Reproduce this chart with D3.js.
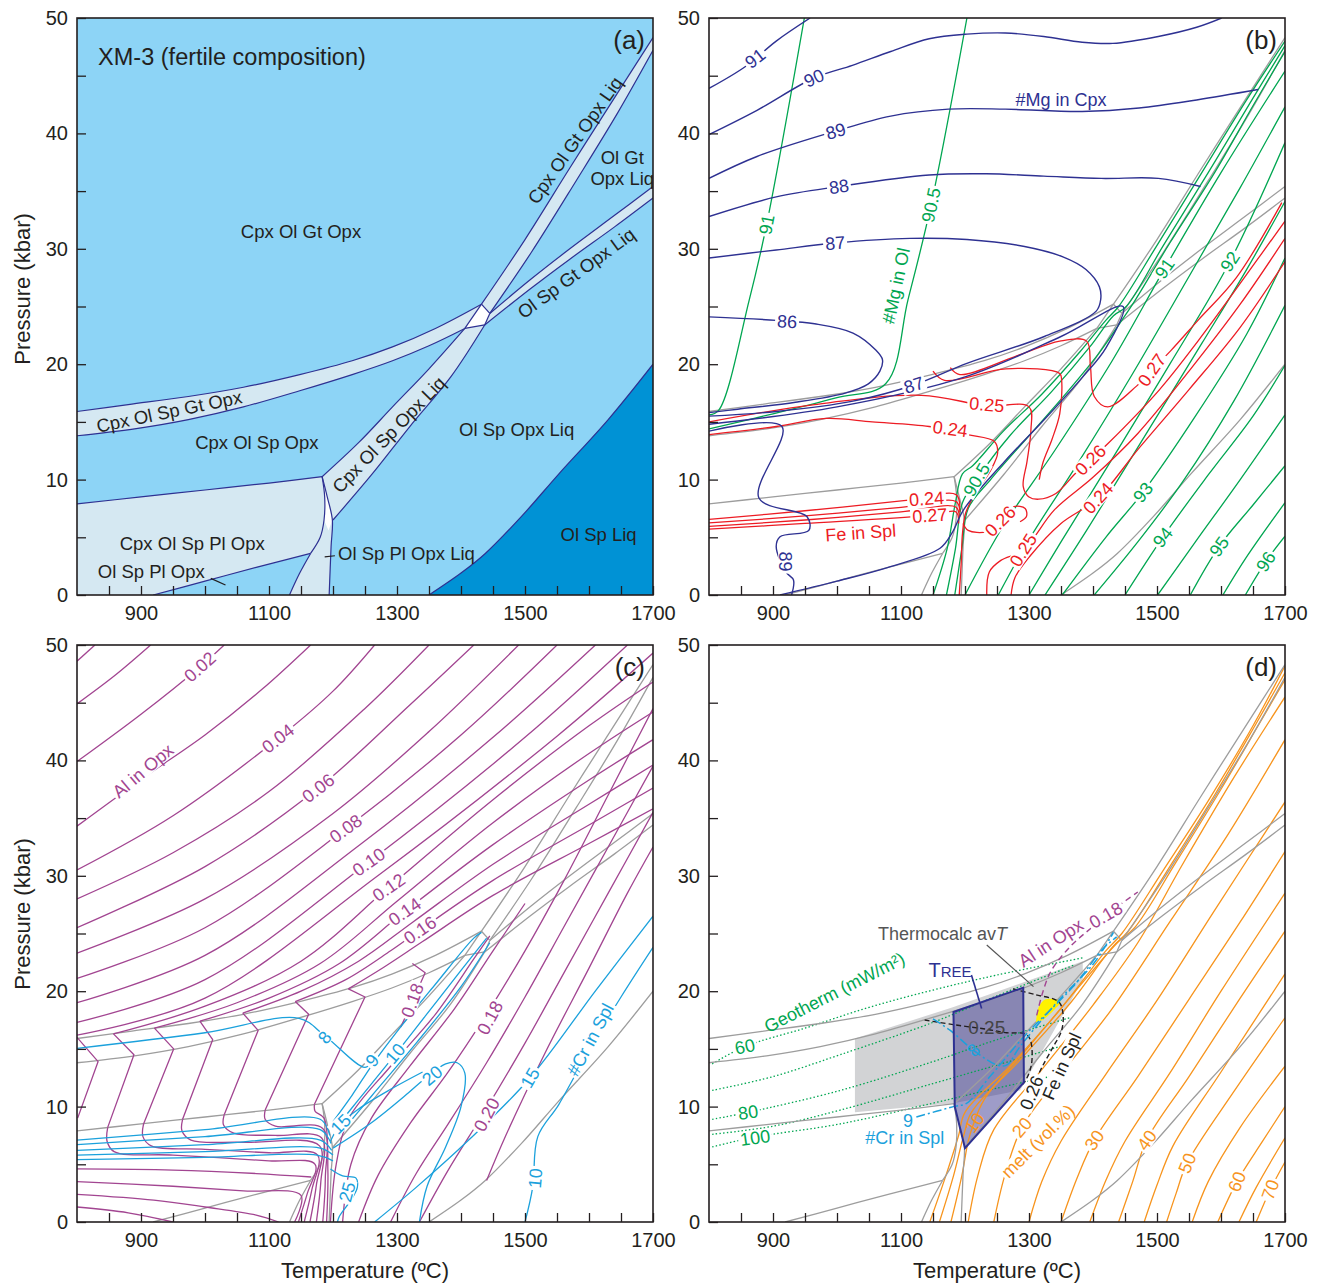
<!DOCTYPE html>
<html>
<head>
<meta charset="utf-8">
<script src="https://cdn.jsdelivr.net/npm/d3@7"></script>
<style>
  body { margin: 0; background: #fff; }
  text { font-family: "Liberation Sans", Arial, Helvetica, sans-serif; }
</style>
</head>
<body>
<div id="chart"></div>
<script>
// ---------- axis values ----------
const xTickLabels = [900, 1100, 1300, 1500, 1700];
const yTickLabels = [0, 10, 20, 30, 40, 50];

// ---------- phase boundaries (T degC, P kbar) ----------
const gtUpper = [[800,15.9],[880,16.5],[974,17.2],[1060,18.0],[1148,19.1],[1230,20.3],[1293,21.5],[1360,23.1],[1432,25.2]];
const gtLower = [[800,13.8],[890,14.4],[974,15.2],[1060,16.3],[1148,17.7],[1230,19.1],[1293,20.3],[1350,21.6],[1406,23.1]];
const solLeft = [[1183,10.25],[1240,13.2],[1293,16.3],[1350,19.6],[1406,23.1]];
const cpxOut = [[1200,6.5],[1260,10.4],[1320,14.6],[1384,18.9],[1437,23.4]];
const triEdges = [
  [[1406,23.1],[1432,25.2]],
  [[1406,23.1],[1437,23.4]],
  [[1432,25.2],[1445,24.4]],
  [[1437,23.4],[1445,24.4]]
];
const gtLiqLeft = [[1432,25.2],[1500,30.8],[1570,37.0],[1640,43.1],[1700,48.3]];
const gtLiqRight = [[1445,24.4],[1510,29.7],[1580,35.9],[1645,41.8],[1700,47.2]];
const spgtUpper = [[1445,24.4],[1510,27.4],[1570,30.0],[1640,32.9],[1700,35.4]];
const spgtLower = [[1437,23.4],[1510,26.6],[1570,29.1],[1640,31.9],[1700,34.4]];
const plagIn = [[800,7.9],[900,8.5],[1000,9.1],[1100,9.7],[1183,10.25]];
const curveA = [[1183,10.25],[1191,8.5],[1199,6.5],[1197,4.2],[1194,0]];
const curveB = [[1183,10.25],[1187,8.5],[1186,6.5],[1180,5.0],[1165,3.6]];
const plSol = [[1165,3.6],[1148,1.9],[1132,0]];
const cpxOutPl = [[919,0],[1000,1.2],[1080,2.4],[1165,3.6]];
const opxOut = [[1350,0],[1400,1.9],[1438,3.6],[1496,6.9],[1553,10.5],[1630,15.2],[1700,20.0]];
const triangle = [[1432,25.2],[1406,23.1],[1437,23.4],[1445,24.4]];
const sliver = [[1183,10.25],[1191,8.5],[1199,6.5],[1193,5.6],[1186,6.5],[1187,8.5]];
const boundaries = [gtUpper, gtLower, solLeft, cpxOut, gtLiqLeft, gtLiqRight, spgtUpper, spgtLower,
  plagIn, curveA, curveB, plSol, cpxOutPl, opxOut, ...triEdges];

// ---------- (b) #Mg in Cpx ----------
const mgCpx = [
  [[800,43.9],[857,45.8],[905,48.0],[958,50]],
  [[800,39.9],[875,42.0],[964,44.8],[1024,45.9],[1084,47.1],[1144,48.2],[1203,48.6],[1263,48.7],[1323,48.4],[1383,47.9],[1431,47.8],[1502,48.4],[1562,49.2],[1601,50]],
  [[800,36.1],[875,38.0],[998,40.2],[1084,41.5],[1174,42.1],[1263,42.1],[1383,41.9],[1472,42.2],[1562,42.9],[1658,43.8]],
  [[800,32.8],[905,34.5],[1003,35.4],[1144,36.4],[1233,36.5],[1323,36.3],[1413,36.1],[1502,36.1],[1568,35.4]],
  [[800,29.2],[905,29.9],[997,30.5],[1114,30.9],[1203,30.8],[1293,30.2],[1353,29.3],[1389,28.2],[1410,26.7],[1412,25.6],[1405,24.6],[1324,22.4],[1204,20.1],[1120,18.2],[1025,16.8],[905,15.9],[800,15.5]],
  [[800,24.1],[905,23.8],[965,23.5],[1025,22.7],[1061,21.2],[1071,20.4],[1067,19.4],[1049,18.3],[1013,17.5],[935,16.7],[845,16.1],[800,15.8]],
  [[800,14.8],[1000,16.3],[1200,18.9],[1350,22.4],[1447,25.0],[1420,21.4],[1384,18.9],[1324,15.2],[1264,11.7],[1198,7.4],[1180,5.4],[1161,4.05],[1080,2.4],[1000,1.2],[911,0]],
  [[800,14.2],[914,14.6],[878,8.4],[953,6.8],[956,5.6],[911,5.05],[905,4.2],[920,2.0],[932,1.3],[929,0]]
];
// ---------- (b) #Mg in Ol ----------
const mgOl = [
  [[949,50],[890,32.1],[863,25.6],[815,16.0],[800,15.6]],
  [[1203,50],[1147,33.8],[1111,25.6],[1076,18.3],[1000,17.1],[900,15.7],[800,14.4]],
  [[1150,0],[1172,4],[1185,8],[1196,10.5],[1212,11.2],[1260,14.2],[1320,17.4],[1380,21.1],[1420,23.8],[1440,25.0],[1500,30.3],[1570,36.6],[1640,42.9],[1700,48.0]],
  [[1171,0],[1185,4],[1196,8],[1218,10.0],[1270,13.8],[1335,17.6],[1395,21.5],[1432,24.2],[1452,25.0],[1510,30.3],[1580,36.6],[1645,42.6],[1700,47.6]],
  [[1184,0],[1195,4],[1205,7.5],[1240,10.0],[1300,13.8],[1360,17.6],[1410,21.0],[1445,23.8],[1462,25.2],[1520,30.5],[1590,36.6],[1650,42.4],[1700,47.1]],
  [[1200,0],[1260,6],[1340,12.5],[1430,20.3],[1512,28.3],[1600,36.6],[1700,45.4]],
  [[1252,0],[1300,4.8],[1375,11.3],[1460,19.0],[1550,27.6],[1630,35.3],[1700,42.3]],
  [[1300,0],[1350,4.6],[1430,11.8],[1520,20.0],[1614,28.9],[1700,39.2]],
  [[1325,0],[1390,5.6],[1470,12.8],[1570,21.8],[1640,28.2],[1700,34.1]],
  [[1352,0],[1420,5.0],[1478,8.9],[1560,15.5],[1640,22.6],[1700,29.2]],
  [[1402,0],[1470,4.6],[1540,9.8],[1620,16.8],[1700,25.1]],
  [[1450,0],[1509,5.0],[1580,10.4],[1650,15.5],[1700,19.9]],
  [[1501,0],[1560,4.6],[1630,10.0],[1700,15.6]],
  [[1552,0],[1597,4.2],[1650,7.8],[1700,11.2]],
  [[1603,0],[1640,3.3],[1700,8.0]],
  [[1638,0],[1670,2.9],[1700,5.1]]
];
// ---------- (b) Fe in Spl ----------
const feSpl = [
  [[800,6.55],[950,7.3],[1108,8.2],[1186,8.7],[1192,7.6]],
  [[800,6.25],[950,6.85],[1100,7.6],[1186,8.1],[1192,7.2]],
  [[800,5.95],[950,6.5],[1100,7.2],[1186,7.6],[1191,6.7]],
  [[800,5.7],[950,6.2],[1144,6.9],[1186,7.2],[1190,6.2]],
  [[800,13.9],[905,14.6],[983,15.3],[1055,15.0],[1144,14.6],[1204,13.9],[1246,13.3],[1251,12.3],[1240,10.8],[1216,8.8],[1201,7.1],[1196,5.3],[1194,2.7],[1191,0]],
  [[800,15.0],[965,16.5],[1132,17.3],[1234,16.4],[1300,16.3],[1303,14.3],[1297,11.6],[1291,9.4],[1300,8.5],[1315,8.3],[1342,8.8],[1372,10.5],[1396,11.7],[1423,13.1],[1504,17.8],[1564,22.0],[1630,27.0],[1700,32.4]],
  [[1150,19.4],[1168,18.6],[1264,19.6],[1348,19.2],[1351,18.6],[1348,15.7],[1336,13.5],[1322,11.5],[1316,10.0]],
  [[1177,19.7],[1192,19.1],[1280,20.7],[1348,22.0],[1390,22.0],[1396,19.8],[1402,17.2],[1423,16.3],[1468,18.1],[1492,19.5],[1522,21.2],[1564,23.8],[1624,27.5],[1695,34.0]],
  [[1234,0],[1238,2.0],[1256,3.0],[1291,3.9],[1340,7.4],[1400,10.2],[1470,14.0],[1550,19.4],[1630,25.2],[1700,30.9]],
  [[1272,0],[1278,1.5],[1302,3.4],[1350,6.2],[1408,8.4],[1470,12.6],[1550,17.8],[1630,23.2],[1700,28.9]],
  [[1197,6.2],[1205,5.6],[1234,5.5],[1258,6.6],[1276,7.65],[1294,7.5],[1296,6.8],[1286,6.35]]
];

// ---------- (c) Al in Opx ----------
const alGt = [
  [[800,48.6],[828,50]],
  [[800,44.9],[860,47.4],[915,50]],
  [[800,39.9],[900,44.0],[992,48.1],[1030,50]],
  [[800,34.3],[904,38.5],[1000,42.2],[1090,46.2],[1165,50]],
  [[800,30.5],[950,35.2],[1114,41.9],[1200,46.0],[1265,50]],
  [[800,28.0],[950,32.0],[1100,37.3],[1250,44.5],[1350,50]],
  [[800,25.5],[1000,30.8],[1177,37.6],[1320,44.8],[1420,50]],
  [[800,23.3],[1000,28.0],[1200,35.4],[1350,42.5],[1490,50]],
  [[800,21.1],[1000,25.5],[1220,34.1],[1400,42.2],[1550,50]],
  [[800,19.0],[1000,23.1],[1240,32.6],[1450,42.0],[1610,50]],
  [[800,17.3],[1000,21.0],[1256,31.2],[1500,42.0],[1660,50]],
  [[800,16.2],[1000,19.4],[1270,30.0],[1550,42.1],[1700,49.3]],
  [[857,16.3],[1000,18.7],[1150,22.6],[1287,29.0],[1450,36.6],[1600,43.0],[1700,46.8]],
  [[921,16.8],[1050,19.0],[1180,22.4],[1300,27.8],[1450,34.6],[1600,40.6],[1700,44.2]],
  [[992,17.4],[1100,19.4],[1210,22.4],[1312,26.9],[1450,32.7],[1600,38.3],[1700,41.8]],
  [[1059,18.1],[1150,20.0],[1240,22.6],[1325,26.0],[1450,31.0],[1600,36.2],[1700,39.6]],
  [[1141,19.1],[1220,21.0],[1290,23.5],[1336,25.3],[1450,29.6],[1600,34.4],[1700,37.6]],
  [[1224,20.2],[1280,22.1],[1340,24.3],[1450,28.3],[1600,32.8],[1700,35.8]]
];
const alSp = [
  [[800,16.0],[833,13.9],[801,9.0]],
  [[857,16.3],[889,14.5],[848,8.2]],
  [[921,16.8],[951,15.0],[904,8.5]],
  [[992,17.4],[1012,15.8],[965,8.9]],
  [[1059,18.1],[1083,16.6],[1030,9.3]],
  [[1141,19.1],[1162,18.0],[1094,9.7]],
  [[1224,20.2],[1250,19.5],[1171,10.2]],
  [[1324,22.4],[1344,21.6],[1306,16.9]]
];
const alPl = [
  [[848,8.2],[847,7.0],[858,6.1],[950,5.8],[1100,5.3],[1172,5.0],[1160,2.5],[1146,0]],
  [[904,8.5],[903,7.4],[916,6.6],[1000,6.3],[1100,6.0],[1176,5.8],[1167,2.8],[1155,0]],
  [[965,8.9],[964,7.9],[978,7.1],[1060,6.9],[1179,6.6],[1174,3.2],[1164,0]],
  [[1030,9.3],[1029,8.4],[1045,7.7],[1110,7.5],[1182,7.3],[1181,3.5],[1174,0]],
  [[1094,9.7],[1094,8.9],[1110,8.3],[1184,8.1],[1188,3.8],[1184,0]],
  [[1171,10.2],[1172,9.6],[1186,9.0],[1192,4.5],[1190,0]],
  [[800,4.6],[950,4.5],[1080,4.2],[1166,3.9]],
  [[800,3.5],[950,3.1],[1060,2.7],[1150,2.3],[1140,0]],
  [[800,2.4],[920,1.9],[1000,1.3],[1080,0.6],[1115,0]],
  [[800,1.3],[880,0.8],[950,0]]
];
const alLiq = [
  [[1196,0],[1205,5],[1225,9],[1290,13.5],[1360,18.0],[1420,22.8],[1445,24.8]],
  [[1215,0],[1228,5],[1260,9],[1320,13.5],[1390,18.5],[1450,23.5],[1500,27.6]],
  [[1240,0],[1270,4],[1320,8.5],[1380,13],[1441,18.1],[1500,23.5],[1560,29.5],[1630,37],[1700,44.5]],
  [[1290,0],[1330,4.2],[1380,8.5],[1440,13.8],[1500,19.5],[1560,25.5],[1630,32.5],[1700,39.5]],
  [[1335,0],[1380,4.5],[1435,9.4],[1500,15.5],[1560,21.5],[1630,28.5],[1700,35.5]],
  [[1440,3.6],[1470,7.5],[1530,14.5],[1600,22],[1660,28.5],[1700,32.5]]
];
// ---------- (c) #Cr in Spl ----------
const crSpl = [
  [[800,15.05],[1000,16.4],[1147,17.65],[1188,16.1],[1250,13.4],[1262,14.0]],
  [[1200,8.7],[1230,11.0],[1261,13.6],[1300,16.5],[1360,20.6],[1420,24.6],[1432,25.1]],
  [[1205,8.2],[1240,10.6],[1297,14.5],[1345,17.9],[1400,21.8],[1440,24.6]],
  [[1210,7.6],[1260,10.9],[1330,15.5],[1400,20.4],[1445,24.2]],
  [[1196,7.0],[1212,8.5],[1240,9.8],[1290,11.5],[1340,13.0]],
  [[1200,6.4],[1260,8.6],[1318,11.2],[1341,12.3],[1376,13.7],[1394,13.8],[1406,12.9],[1400,10.0],[1376,6.5],[1347,3.1],[1335,0]],
  [[1196,4.6],[1215,4.0],[1236,3.8],[1238,3.0],[1228,1.9],[1210,0.5],[1207,0]],
  [[1265,0],[1330,3.0],[1412,7.1],[1508,12.5],[1611,20.1],[1700,26.5]],
  [[1500,0],[1512,3.0],[1520,7.4],[1553,10.2],[1603,15.2],[1650,19.5],[1700,23.8]],
  [[800,7.1],[1000,8.0],[1180,8.9],[1195,7.5]],
  [[800,6.7],[1000,7.4],[1180,8.0],[1197,6.8]],
  [[800,6.2],[1000,6.7],[1180,7.1],[1198,6.2]],
  [[800,5.8],[1000,6.1],[1180,6.4],[1200,5.8]],
  [[800,5.4],[1000,5.6],[1175,5.8],[1200,5.3]]
];

// ---------- (d) melt (vol.%) ----------
const melt = [
  [[1145,0],[1170,4],[1190,7.5],[1200,9.5],[1270,13.5],[1350,18.5],[1420,23.5],[1445,25],[1510,30.5],[1580,36.5],[1650,43],[1700,48.2]],
  [[1160,0],[1182,4],[1198,7.5],[1210,9.5],[1285,14],[1365,19],[1430,23.8],[1455,25.2],[1520,30.8],[1590,37],[1655,43.2],[1700,47.6]],
  [[1178,0],[1195,4],[1205,7],[1212,8.3],[1230,10.6],[1300,15.2],[1380,20.5],[1440,24.3],[1465,25.5],[1530,31.2],[1600,37.5],[1660,43.2],[1700,47.0]],
  [[1205,0],[1220,4],[1245,8],[1320,13.2],[1400,18.8],[1470,24.2],[1540,31],[1620,38.5],[1700,45.5]],
  [[1245,0],[1262,4],[1289,8.2],[1350,12.8],[1430,18.5],[1520,26],[1610,33.5],[1700,41.8]],
  [[1300,0],[1320,3.5],[1350,7.0],[1420,12.8],[1500,19.2],[1590,27],[1700,36.4]],
  [[1350,0],[1375,3.8],[1402,7.1],[1470,12.6],[1550,19.3],[1630,26],[1700,32.1]],
  [[1395,0],[1420,3.6],[1450,7.0],[1520,12.9],[1600,20],[1700,28.5]],
  [[1440,0],[1462,3.5],[1484,7.1],[1550,12.6],[1630,19.4],[1700,25.2]],
  [[1480,0],[1500,3.2],[1525,6.6],[1600,13.0],[1700,21.5]],
  [[1515,0],[1530,2.5],[1547,5.1],[1620,11.3],[1700,17.7]],
  [[1555,0],[1580,3.5],[1630,8.2],[1700,13.5]],
  [[1595,0],[1625,3.5],[1665,7.0],[1700,10.0]],
  [[1628,0],[1655,3.0],[1700,7.3]],
  [[1655,0],[1677,2.8],[1700,5.2]]
];
const geotherms = [
  [[805,13.7],[856,15.2],[950,16.8],[1050,18.6],[1150,20.1],[1250,21.4],[1385,22.9]],
  [[805,11.4],[900,12.6],[1005,14.5],[1150,17.3],[1250,19.6],[1372,22.3]],
  [[805,8.9],[861,9.5],[1005,11.4],[1150,13.9],[1250,15.8],[1364,17.7]],
  [[805,7.6],[900,8.3],[1005,9.7],[1150,12.0],[1250,13.6],[1354,15.3]],
  [[805,6.5],[866,7.3],[1005,8.5],[1150,10.3],[1250,11.6],[1333,12.6]]
];
const avTRegion = [[1028,15.9],[1181,18.6],[1384,22.6],[1384,21.0],[1286,11.4],[1182,10.3],[1028,9.5]];
const treeRegion = [[1182,18.2],[1291,20.3],[1292,12.1],[1200,6.4],[1184,10.0]];
const yellowRegion = [[1311,17.3],[1315,18.6],[1326,19.3],[1349,19.1],[1338,18.3],[1322,17.5]];
const feDash = [
  [[1137,17.5],[1182,17.1],[1234,16.7],[1265,16.4],[1294,16.3],[1302,15.8],[1304,13.7],[1294,12.2],[1286,11.7]],
  [[1275,20.2],[1310,19.7],[1346,19.1],[1353,18.1],[1351,16.6],[1338,15.2],[1322,13.6],[1313,12.6]]
];
const crDash = [
  [[1150,17.6],[1177,16.6],[1213,14.9],[1250,13.6],[1265,13.6],[1286,15.2],[1343,19.0],[1401,22.4],[1432,25.1]],
  [[1124,9.1],[1182,10.0],[1203,10.3],[1239,12.6],[1296,16.3],[1369,20.4],[1416,23.7],[1437,24.7]]
];
const alDash = [[1312,17.9],[1322,20.0],[1335,21.8],[1365,23.9],[1400,25.6],[1440,27.4],[1470,28.6]];

// ---------- colours ----------
const navy = "#2e3192", green = "#00a651", red = "#ed1c24", purple = "#a24591",
      blue = "#1ba1dc", orange = "#f7941d", gray = "#9d9d9d", ink = "#231f20";

// ---------- layout ----------
const W = 576, H = 577;
const origins = { a: [77, 18], b: [709, 18], c: [77, 645], d: [709, 645] };

const svg = d3.select("#chart").append("svg")
  .attr("width", 1325).attr("height", 1284)
  .style("background", "#fff");

function setup(key) {
  const [x0, y0] = origins[key];
  const x = d3.scaleLinear().domain([800, 1700]).range([x0, x0 + W]);
  const y = d3.scaleLinear().domain([0, 50]).range([y0 + H, y0]);
  svg.append("clipPath").attr("id", "clip-" + key)
    .append("rect").attr("x", x0).attr("y", y0).attr("width", W).attr("height", H);
  const g = svg.append("g");
  const plot = g.append("g").attr("clip-path", `url(#clip-${key})`);
  return { key, x, y, g, plot, x0, y0 };
}

const smooth = d3.curveCatmullRom.alpha(0.5);
function gen(p, curve) {
  return d3.line().x(d => p.x(d[0])).y(d => p.y(d[1])).curve(curve || smooth);
}
function draw(p, layer, pts, color, width, dash, curve) {
  return layer.append("path").attr("d", gen(p, curve)(pts))
    .attr("fill", "none").attr("stroke", color).attr("stroke-width", width || 1.3)
    .attr("stroke-dasharray", dash || null).attr("stroke-linejoin", "round");
}
function polyPath(p, parts, curve) {
  return parts.map((pts, i) => {
    if (pts.length === 1) return (i === 0 ? "M" : "L") + p.x(pts[0][0]) + "," + p.y(pts[0][1]);
    const s = gen(p, curve)(pts);
    return i === 0 ? s : "L" + s.slice(1);
  }).join("") + "Z";
}
const rev = a => a.slice().reverse();

function addLabel(p, layer, T, P, text, angle, color, o = {}) {
  const fs = o.size || 18;
  const g = layer.append("g").attr("transform", `translate(${p.x(T)},${p.y(P)}) rotate(${angle || 0})`);
  const bg = o.bg ? g.append("rect").attr("fill", "#fff") : null;
  const t = g.append("text").attr("text-anchor", o.anchor || "middle").attr("dy", "0.35em")
    .attr("font-size", fs).attr("fill", color).text(text);
  if (bg) {
    const b = t.node().getBBox();
    bg.attr("x", b.x - 2).attr("y", -0.42 * fs).attr("width", b.width + 4).attr("height", 0.84 * fs);
  }
  return t;
}

function axes(p, letter) {
  const xa = d3.axisBottom(p.x).tickValues(d3.range(850, 1701, 50)).tickSize(-9).tickPadding(11)
    .tickFormat(d => xTickLabels.includes(d) ? d : "");
  const ya = d3.axisLeft(p.y).tickValues(d3.range(0, 51, 5)).tickSize(-9).tickPadding(9)
    .tickFormat(d => yTickLabels.includes(d) ? d : "");
  const gx = p.g.append("g").attr("transform", `translate(0,${p.y0 + H})`).call(xa);
  const gy = p.g.append("g").attr("transform", `translate(${p.x0},0)`).call(ya);
  [gx, gy].forEach(a => {
    a.select(".domain").remove();
    a.selectAll("line").attr("stroke", ink).attr("stroke-width", 1.3);
    a.selectAll("text").attr("font-size", 20).attr("fill", ink)
      .attr("font-family", '"Liberation Sans", Arial, sans-serif');
  });
  p.g.append("rect").attr("x", p.x0).attr("y", p.y0).attr("width", W).attr("height", H)
    .attr("fill", "none").attr("stroke", ink).attr("stroke-width", 1.6);
  p.g.append("text").attr("x", p.x0 + W - 8).attr("y", p.y0 + 31).attr("text-anchor", "end")
    .attr("font-size", 26).attr("fill", ink).text(letter);
}

function grayBoundaries(p) {
  boundaries.forEach(b => draw(p, p.plot, b, gray, 1.3));
}

// ================= (a) =================
const pa = setup("a");
{
  const mid = "#8dd4f6", pale = "#d5e8f2", dark = "#0092d5";
  const L = pa.plot;
  L.append("rect").attr("x", pa.x0).attr("y", pa.y0).attr("width", W).attr("height", H).attr("fill", mid);
  const fill = (parts, c, curve) => L.append("path").attr("d", polyPath(pa, parts, curve)).attr("fill", c).attr("stroke", "none");
  fill([[[800,0]], plagIn, curveB, rev(cpxOutPl)], pale);
  fill([curveB, plSol, [[1194,0]], rev(curveA)], pale);
  fill([sliver], "#fff", d3.curveLinear);
  fill([solLeft, [[1437,23.4]], rev(cpxOut), rev(curveA.slice(0, 3))], pale);
  fill([gtUpper, rev(gtLower)], pale);
  fill([gtLiqLeft, rev(gtLiqRight)], pale);
  fill([spgtUpper, rev(spgtLower)], pale);
  fill([triangle], "#fff", d3.curveLinear);
  fill([opxOut, [[1700,0]]], dark);
  boundaries.forEach(b => draw(pa, L, b, navy, 1.2));

  const lab = (T, P, t, a, o) => addLabel(pa, L, T, P, t, a, ink, Object.assign({ size: 18.5 }, o || {}));
  lab(833, 46.6, "XM-3 (fertile composition)", 0, { anchor: "start", size: 23.5 });
  lab(1150, 31.5, "Cpx Ol Gt Opx", 0);
  lab(944, 15.9, "Cpx Ol Sp Gt Opx", -11.6);
  lab(1081, 13.2, "Cpx Ol Sp Opx", 0);
  lab(1287, 13.9, "Cpx Ol Sp Opx Liq", -46);
  lab(1487, 14.3, "Ol Sp Opx Liq", 0);
  lab(980, 4.5, "Cpx Ol Sp Pl Opx", 0);
  lab(916, 2.0, "Ol Sp Pl Opx", 0);
  lab(1208, 3.6, "Ol Sp Pl Opx Liq", 0, { anchor: "start" });
  lab(1615, 5.2, "Ol Sp Liq", 0);
  lab(1578, 39.4, "Cpx Ol Gt Opx Liq", -55);
  lab(1652, 37.9, "Ol Gt", 0);
  lab(1652, 36.1, "Opx Liq", 0);
  lab(1580, 27.9, "Ol Sp Gt Opx Liq", -36);
  draw(pa, L, [[1009,1.44],[1032,0.86]], ink, 1.2, null, d3.curveLinear);
  draw(pa, L, [[1187,3.3],[1203,3.4]], ink, 1.2, null, d3.curveLinear);
}
axes(pa, "(a)");

// ================= (b) =================
const pb = setup("b");
{
  const L = pb.plot;
  grayBoundaries(pb);
  mgOl.forEach(l => draw(pb, L, l, green, 1.3));
  feSpl.forEach(l => draw(pb, L, l, red, 1.3));
  mgCpx.forEach(l => draw(pb, L, l, navy, 1.4));
  const lab = (T, P, t, a, c, o) => addLabel(pb, L, T, P, t, a, c, Object.assign({ bg: true }, o || {}));
  lab(872, 46.5, "91", -38, navy); lab(964, 44.8, "90", -25, navy); lab(998, 40.2, "89", -17, navy);
  lab(1003, 35.4, "88", -8, navy); lab(997, 30.5, "87", -5, navy); lab(922, 23.7, "86", 3, navy);
  lab(1120, 18.2, "87", -18, navy); lab(920, 2.9, "89", 90, navy);
  lab(1350, 42.9, "#Mg in Cpx", 0, navy, { bg: false });
  lab(890, 32.1, "91", -79, green); lab(1147, 33.8, "90.5", -78, green);
  lab(1092, 26.8, "#Mg in Ol", -78, green, { bg: false });
  lab(1512, 28.3, "91", -55, green); lab(1614, 28.9, "92", -57, green); lab(1218, 10.0, "90.5", -60, green);
  lab(1478, 8.9, "93", -52, green); lab(1509, 5.0, "94", -52, green); lab(1597, 4.2, "95", -55, green);
  lab(1670, 2.9, "96", -58, green);
  lab(1234, 16.5, "0.25", 5, red); lab(1177, 14.4, "0.24", 8, red);
  lab(1140, 8.35, "0.24", -4, red); lab(1145, 6.9, "0.27", -4, red);
  lab(1037, 5.4, "Fe in Spl", -4, red, { bg: false });
  lab(1492, 19.5, "0.27", -55, red); lab(1396, 11.7, "0.26", -45, red); lab(1408, 8.4, "0.24", -48, red);
  lab(1291, 3.9, "0.25", -58, red); lab(1255, 6.4, "0.26", -45, red);
}
axes(pb, "(b)");

// ================= (c) =================
const pc = setup("c");
{
  const L = pc.plot;
  grayBoundaries(pc);
  alGt.forEach(l => draw(pc, L, l, purple, 1.3));
  alSp.forEach(l => draw(pc, L, l, purple, 1.3, null, d3.curveLinear));
  alPl.forEach(l => draw(pc, L, l, purple, 1.3));
  alLiq.forEach(l => draw(pc, L, l, purple, 1.3));
  crSpl.forEach(l => draw(pc, L, l, blue, 1.3));
  const lab = (T, P, t, a, c, o) => addLabel(pc, L, T, P, t, a, c, Object.assign({ bg: true }, o || {}));
  lab(992, 48.1, "0.02", -42, purple); lab(1114, 41.9, "0.04", -38, purple); lab(1177, 37.6, "0.06", -37, purple);
  lab(1220, 34.1, "0.08", -36, purple); lab(1256, 31.2, "0.10", -35, purple); lab(1287, 29.0, "0.12", -35, purple);
  lab(1312, 26.9, "0.14", -35, purple); lab(1336, 25.3, "0.16", -35, purple);
  lab(903, 39.1, "Al in Opx", -40, purple);
  lab(1324, 19.2, "0.18", -70, purple); lab(1445, 17.7, "0.18", -62, purple); lab(1440, 9.3, "0.20", -62, purple);
  lab(1187, 16.0, "8", -50, blue); lab(1261, 14.0, "9", -50, blue); lab(1297, 14.6, "10", -50, blue);
  lab(1212, 8.5, "15", -45, blue); lab(1355, 12.7, "20", -40, blue); lab(1222, 2.6, "25", -75, blue);
  lab(1508, 12.5, "15", -60, blue); lab(1516, 3.8, "10", -85, blue);
  lab(1602, 15.8, "#Cr in Spl", -62, blue);
}
axes(pc, "(c)");

// ================= (d) =================
const pd = setup("d");
{
  const L = pd.plot;
  L.append("path").attr("d", polyPath(pd, [avTRegion], d3.curveLinear)).attr("fill", "#d2d3d5");
  L.append("path").attr("d", polyPath(pd, [treeRegion], d3.curveLinear)).attr("fill", "#3d3a92").attr("fill-opacity", 0.5);
  geotherms.forEach(l => draw(pd, L, l, green, 1.3, "1.5,2.2"));
  melt.forEach(l => draw(pd, L, l, orange, 1.3));
  grayBoundaries(pd);
  L.append("path").attr("d", polyPath(pd, [yellowRegion], smooth)).attr("fill", "#fff200");
  feDash.forEach(l => draw(pd, L, l, ink, 1.4, "5,3"));
  crDash.forEach(l => draw(pd, L, l, blue, 1.5, "9,3,2,3"));
  draw(pd, L, alDash, purple, 1.4, "6,4");
  L.append("path").attr("d", polyPath(pd, [treeRegion], d3.curveLinear)).attr("fill", "none")
    .attr("stroke", navy).attr("stroke-width", 2);
  // leaders
  draw(pd, L, [[1234,24.0],[1307,20.4]], "#555", 1.2, null, d3.curveLinear);
  draw(pd, L, [[1210,21.4],[1226,18.5]], navy, 1.6, null, d3.curveLinear);

  const lab = (T, P, t, a, c, o) => addLabel(pd, L, T, P, t, a, c, Object.assign({ bg: true }, o || {}));
  lab(1215, 8.6, "10", -55, orange, { bg: false }); lab(1289, 8.2, "20", -50, orange);
  lab(1402, 7.1, "30", -55, orange); lab(1484, 7.1, "40", -55, orange); lab(1547, 5.1, "50", -68, orange);
  lab(1625, 3.5, "60", -68, orange); lab(1677, 2.8, "70", -70, orange);
  lab(1314, 7.0, "melt (vol.%)", -45, orange);
  lab(856, 15.2, "60", -12, green); lab(861, 9.5, "80", -8, green); lab(872, 7.3, "100", -8, green);
  lab(996, 19.9, "Geotherm (mW/m²)", -27, green, { bg: false, size: 18 });
  lab(1334, 24.2, "Al in Opx", -33, purple, { bg: false });
  lab(1420, 26.6, "0.18", -30, purple);
  lab(1234, 16.9, "0.25", 0, "#444", { bg: false, size: 19 });
  lab(1213, 14.9, "8", -45, blue, { bg: false });
  lab(1111, 8.8, "9", 0, blue, { bg: false });
  lab(1106, 7.3, "#Cr in Spl", 0, blue, { bg: false });
  lab(1304, 11.2, "0.26", -68, ink);
  lab(1351, 13.5, "Fe in Spl", -66, ink);
  // Thermocalc avT
  const tt = L.append("text").attr("x", pd.x(1064)).attr("y", pd.y(24.4)).attr("font-size", 18).attr("fill", "#555");
  tt.append("tspan").text("Thermocalc av");
  tt.append("tspan").attr("font-style", "italic").text("T");
  const tr = L.append("text").attr("x", pd.x(1143)).attr("y", pd.y(21.2)).attr("font-size", 20).attr("fill", navy);
  tr.append("tspan").text("T");
  tr.append("tspan").attr("font-size", 15).text("REE");
}
axes(pd, "(d)");

// ---------- axis titles ----------
[289, 914].forEach(cy => svg.append("text").attr("transform", `translate(30,${cy}) rotate(-90)`)
  .attr("text-anchor", "middle").attr("font-size", 22).attr("fill", ink).text("Pressure (kbar)"));
[365, 997].forEach(cx => svg.append("text").attr("x", cx).attr("y", 1278)
  .attr("text-anchor", "middle").attr("font-size", 22).attr("fill", ink).text("Temperature (ºC)"));
</script>
</body>
</html>
